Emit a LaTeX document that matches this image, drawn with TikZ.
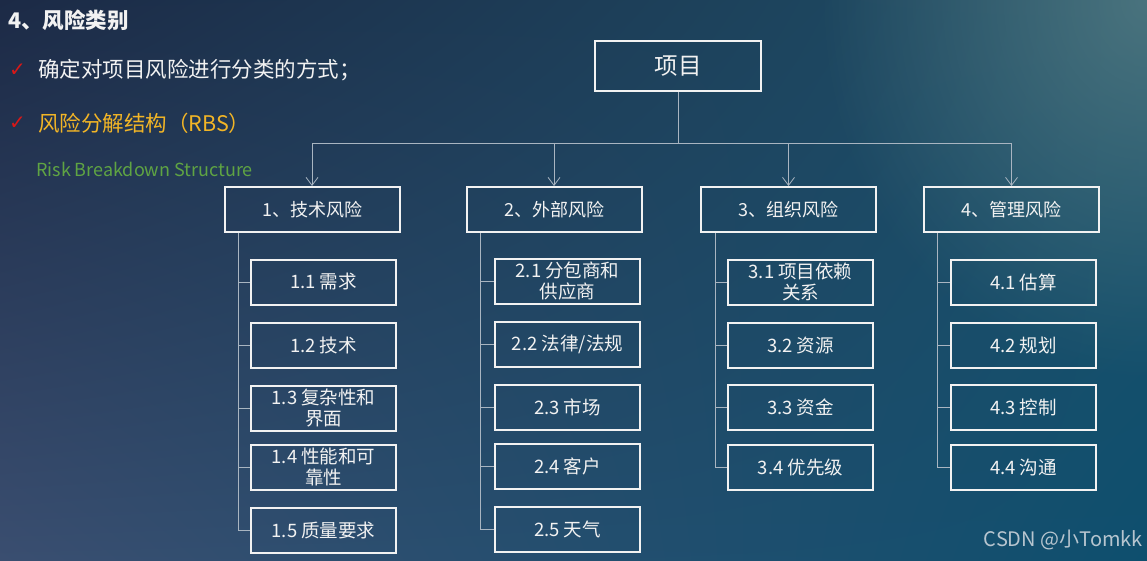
\documentclass[tikz,border=0pt]{standalone}
\usepackage{fontspec}
\setmainfont{Noto Sans CJK SC}
\newfontfamily\symfont{DejaVu Sans}
\usetikzlibrary{arrows.meta,calc,positioning,fadings,shadings}
\definecolor{rbsink}{HTML}{F2F2F2}
\definecolor{rbswire}{HTML}{A9B5C1}
\definecolor{rbscheck}{HTML}{D81818}
\definecolor{rbsgold}{HTML}{F2B526}
\definecolor{rbsgreen}{HTML}{5FA443}
\definecolor{rbsmark}{HTML}{C9D2DA}
\definecolor{rbsglow}{HTML}{5C8287}
\definecolor{rbsul}{HTML}{1C2A46}
\definecolor{rbsur}{HTML}{1E5068}
\definecolor{rbsll}{HTML}{3A4E70}
\definecolor{rbslr}{HTML}{0E4F6E}
\tikzfading[name=rbsfade,inner color=transparent!0,outer color=transparent!100]
\tikzset{
  rbsroot/.style={draw=rbsink,line width=2pt,minimum width=166pt,minimum height=50pt,
    inner sep=0pt,text=rbsink,font=\fontsize{23.5}{26}\selectfont},
  rbscat/.style={draw=rbsink,line width=2pt,minimum width=175pt,minimum height=45pt,
    inner sep=0pt,text=rbsink,font=\fontsize{18}{21}\selectfont},
  rbsitem/.style={draw=rbsink,line width=2pt,minimum width=145pt,minimum height=45pt,
    inner sep=0pt,align=center,text=rbsink,font=\fontsize{18.5}{20.5}\selectfont},
  rbsline/.style={draw=rbswire,line width=0.8pt},
  rbsarrow/.style={draw=rbswire,line width=0.8pt,-{Straight Barb[length=8pt,width=12pt,line width=0.8pt]}},
  rbsnote/.style={anchor=west,inner sep=0pt,font=\fontsize{21.5}{24}\selectfont},
}

\begin{document}
\begin{tikzpicture}[x=1pt,y=-1pt]
  % background
  \path[use as bounding box] (0,0) rectangle (1147,560);
  \clip (0,0) rectangle (1147,560);
  \shade[upper left=rbsul,upper right=rbsur,lower left=rbsll,lower right=rbslr]
    (0,0) rectangle (1147,560);
  \fill[rbsglow,fill opacity=0.7,path fading=rbsfade] (1147,0) ellipse (330 and 380);

  % heading and notes
  \node[rbsnote,text=rbsink,font=\bfseries\fontsize{21.5}{24}\selectfont] (title) at (8,20) {4、风险类别};
  \node[rbsnote,text=rbscheck,font=\symfont\fontsize{20}{22}\selectfont] (tick1) at (9,70) {✓};
  \node[rbsnote,text=rbsink] (note1) at (38,70) {确定对项目风险进行分类的方式；};
  \node[rbsnote,text=rbscheck,font=\symfont\fontsize{20}{22}\selectfont] (tick2) at (9,123) {✓};
  \node[rbsnote,text=rbsgold] (note2) at (38,123) {风险分解结构（RBS）};
  \node[rbsnote,text=rbsgreen,font=\fontsize{18}{20}\selectfont] (note3) at (36,169) {Risk Breakdown Structure};

  % tree
  \node[rbsroot] (r) at (678,66) {项目};
  \foreach \i/\x/\t in {1/312/技术风险,2/554/外部风险,3/788.5/组织风险,4/1011.5/管理风险}
    {\node[rbscat] (k\i) at (\x,209.5) {\i、\t};}
  \coordinate (bus) at (678,143);
  \draw[rbsline] (r.south) -- (bus);
  \draw[rbsline] (bus -| k1.north) -- (bus -| k4.north);
  \foreach \i in {1,...,4}
    {\draw[rbsarrow] (bus -| k\i.north) -- (k\i.north);}

  \foreach \j/\y/\t in {1/282/1.1 需求,2/345/1.2 技术,3/408/{1.3 复杂性和\\界面},
      4/467/{1.4 性能和可\\靠性},5/530/1.5 质量要求}
    {\node[rbsitem] (k1s\j) at (323.5,\y) {\t};}
  \foreach \j/\y/\t in {1/281/{2.1 分包商和\\供应商},2/344/{2.2 法律/法规},3/407/2.3 市场,
      4/466/2.4 客户,5/529/2.5 天气}
    {\node[rbsitem] (k2s\j) at (567.5,\y) {\t};}
  \foreach \j/\y/\t in {1/282/{3.1 项目依赖\\关系},2/345.5/3.2 资源,3/407.5/3.3 资金,4/467.5/3.4 优先级}
    {\node[rbsitem] (k3s\j) at (800.5,\y) {\t};}
  \foreach \j/\y/\t in {1/282/4.1 估算,2/345.5/4.2 规划,3/407.5/4.3 控制,4/467.5/4.4 沟通}
    {\node[rbsitem] (k4s\j) at (1023.5,\y) {\t};}

  \foreach \j in {1,...,5}
    {\draw[rbsline] ([xshift=15pt]k1.south west) |- (k1s\j.west);
     \draw[rbsline] ([xshift=15pt]k2.south west) |- (k2s\j.west);}
  \foreach \j in {1,...,4}
    {\draw[rbsline] ([xshift=15pt]k3.south west) |- (k3s\j.west);
     \draw[rbsline] ([xshift=14pt]k4.south west) |- (k4s\j.west);}

  \node[anchor=east,inner sep=0pt,text=rbsmark,opacity=0.9,font=\fontsize{20}{22}\selectfont]
    (mark) at (1143,540) {CSDN @小Tomkk};
\end{tikzpicture}
\end{document}
